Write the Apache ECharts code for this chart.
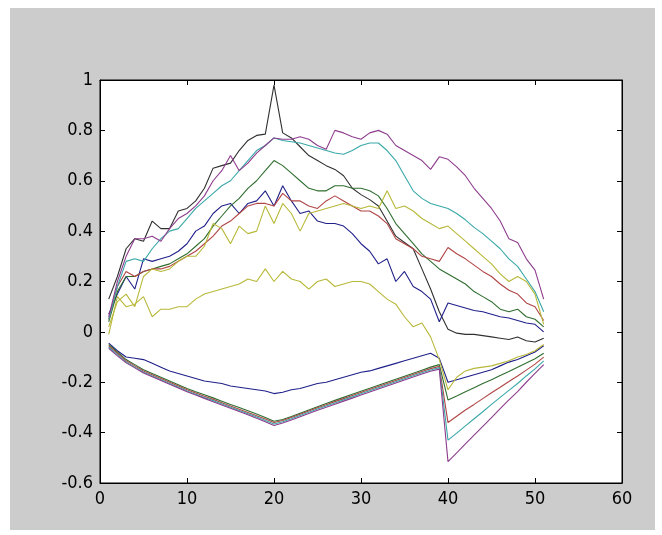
<!DOCTYPE html>
<html><head><meta charset="utf-8">
<script src="https://cdn.jsdelivr.net/npm/echarts/dist/echarts.min.js"></script>
<style>
html,body{margin:0;padding:0;background:#fff;}
#bg{position:absolute;left:10px;top:8px;width:645px;height:522px;background:#cccccc;}
#c{position:absolute;left:0;top:0;width:662px;height:535px;}
</style>
</head><body><div id="bg"></div><div id="c"></div>
<script>
const xValues = [1,2,3,4,5,6,7,8,9,10,11,12,13,14,15,16,17,18,19,20,21,22,23,24,25,26,27,28,29,30,31,32,33,34,35,36,37,38,39,40,41,42,43,44,45,46,47,48,49,50,51];

const xTicks = [0,10,20,30,40,50,60];
const yTicks = [-0.6,-0.4,-0.2,0,0.2,0.4,0.6,0.8,1];

const lowBlue = [-0.045,-0.075,-0.1,-0.105,-0.11,-0.125,-0.14,-0.155,-0.165,-0.175,-0.185,-0.195,-0.2,-0.205,-0.215,-0.22,-0.225,-0.23,-0.235,-0.245,-0.24,-0.23,-0.225,-0.215,-0.205,-0.2,-0.19,-0.18,-0.17,-0.16,-0.155,-0.145,-0.135,-0.125,-0.115,-0.105,-0.095,-0.085,-0.105,-0.2,-0.19,-0.18,-0.17,-0.16,-0.15,-0.135,-0.12,-0.11,-0.095,-0.08,-0.055];
const lowGreen = [-0.05,-0.08,-0.11,-0.13,-0.15,-0.165,-0.18,-0.195,-0.21,-0.225,-0.238,-0.25,-0.262,-0.275,-0.288,-0.3,-0.313,-0.326,-0.34,-0.355,-0.348,-0.336,-0.323,-0.31,-0.297,-0.284,-0.272,-0.26,-0.248,-0.236,-0.224,-0.212,-0.2,-0.188,-0.176,-0.164,-0.152,-0.14,-0.13,-0.27,-0.255,-0.238,-0.222,-0.205,-0.19,-0.173,-0.157,-0.14,-0.124,-0.107,-0.085];
const lowRed = [-0.055,-0.085,-0.115,-0.135,-0.155,-0.17,-0.185,-0.2,-0.215,-0.23,-0.243,-0.256,-0.268,-0.281,-0.294,-0.307,-0.32,-0.333,-0.346,-0.36,-0.352,-0.34,-0.327,-0.314,-0.301,-0.289,-0.277,-0.265,-0.253,-0.241,-0.229,-0.217,-0.205,-0.193,-0.181,-0.169,-0.157,-0.146,-0.137,-0.36,-0.335,-0.31,-0.288,-0.265,-0.242,-0.22,-0.197,-0.175,-0.152,-0.128,-0.1];
const lowCyan = [-0.06,-0.09,-0.12,-0.14,-0.16,-0.175,-0.19,-0.205,-0.22,-0.235,-0.248,-0.261,-0.273,-0.286,-0.299,-0.312,-0.325,-0.338,-0.352,-0.366,-0.357,-0.345,-0.332,-0.319,-0.306,-0.294,-0.282,-0.27,-0.258,-0.246,-0.234,-0.222,-0.21,-0.198,-0.186,-0.174,-0.162,-0.151,-0.142,-0.43,-0.402,-0.373,-0.345,-0.317,-0.288,-0.26,-0.232,-0.205,-0.175,-0.147,-0.115];
const lowMagenta = [-0.065,-0.095,-0.123,-0.143,-0.163,-0.178,-0.193,-0.208,-0.223,-0.238,-0.251,-0.264,-0.277,-0.29,-0.303,-0.316,-0.329,-0.343,-0.357,-0.372,-0.362,-0.35,-0.337,-0.324,-0.311,-0.299,-0.287,-0.275,-0.263,-0.251,-0.239,-0.227,-0.215,-0.203,-0.191,-0.179,-0.167,-0.156,-0.148,-0.515,-0.48,-0.445,-0.41,-0.375,-0.34,-0.305,-0.27,-0.237,-0.2,-0.165,-0.13];
const yellowLow = [-0.01,0.14,0.1,0.11,0.14,0.06,0.09,0.09,0.1,0.1,0.13,0.15,0.16,0.17,0.18,0.19,0.21,0.2,0.25,0.2,0.24,0.21,0.2,0.17,0.2,0.21,0.18,0.19,0.2,0.2,0.19,0.16,0.13,0.11,0.06,0.02,0.035,-0.02,-0.11,-0.23,-0.18,-0.155,-0.145,-0.14,-0.135,-0.125,-0.115,-0.1,-0.09,-0.075,-0.05];
const blackSpike = [0.13,0.22,0.33,0.37,0.36,0.44,0.41,0.41,0.48,0.49,0.52,0.57,0.65,0.66,0.67,0.72,0.76,0.78,0.785,0.98,0.79,0.77,0.735,0.7,0.68,0.66,0.645,0.62,0.57,0.545,0.525,0.5,0.44,0.38,0.355,0.33,0.25,0.17,0.08,0.01,-0.005,-0.01,-0.01,-0.015,-0.02,-0.025,-0.03,-0.02,-0.035,-0.04,-0.025];
const blueUp = [0.07,0.15,0.22,0.17,0.29,0.28,0.29,0.3,0.32,0.35,0.4,0.42,0.47,0.5,0.51,0.47,0.51,0.52,0.56,0.5,0.58,0.52,0.47,0.48,0.44,0.43,0.43,0.42,0.39,0.35,0.32,0.27,0.29,0.2,0.24,0.18,0.16,0.13,0.04,0.115,0.105,0.095,0.085,0.08,0.07,0.06,0.055,0.045,0.035,0.03,0.0];
const greenUp = [0.04,0.16,0.22,0.22,0.24,0.25,0.26,0.27,0.29,0.31,0.34,0.37,0.42,0.46,0.5,0.53,0.57,0.6,0.64,0.68,0.66,0.63,0.6,0.57,0.56,0.56,0.58,0.58,0.57,0.57,0.56,0.54,0.49,0.43,0.39,0.35,0.31,0.28,0.25,0.23,0.21,0.19,0.16,0.14,0.12,0.09,0.08,0.09,0.06,0.05,0.02];
const redUp = [0.05,0.18,0.24,0.22,0.24,0.25,0.25,0.26,0.28,0.3,0.32,0.35,0.38,0.42,0.44,0.47,0.5,0.51,0.51,0.5,0.55,0.52,0.52,0.5,0.49,0.52,0.54,0.52,0.5,0.48,0.48,0.46,0.43,0.37,0.35,0.33,0.3,0.29,0.28,0.335,0.31,0.29,0.265,0.24,0.22,0.19,0.165,0.15,0.115,0.1,0.045];
const cyanUp = [0.05,0.18,0.28,0.29,0.28,0.33,0.37,0.4,0.41,0.45,0.49,0.52,0.55,0.58,0.6,0.64,0.68,0.72,0.74,0.77,0.76,0.755,0.75,0.74,0.73,0.72,0.71,0.705,0.72,0.74,0.75,0.75,0.72,0.68,0.62,0.56,0.53,0.51,0.5,0.49,0.47,0.445,0.415,0.39,0.36,0.33,0.29,0.26,0.21,0.16,0.08];
const magentaUp = [0.06,0.2,0.3,0.37,0.37,0.38,0.36,0.41,0.45,0.47,0.5,0.54,0.6,0.64,0.7,0.64,0.67,0.71,0.74,0.77,0.765,0.765,0.775,0.765,0.74,0.725,0.8,0.79,0.775,0.765,0.79,0.8,0.785,0.74,0.72,0.7,0.68,0.645,0.695,0.685,0.655,0.62,0.57,0.53,0.49,0.44,0.37,0.355,0.29,0.245,0.13];
const yellowHigh = [0.02,0.12,0.15,0.1,0.22,0.25,0.24,0.25,0.28,0.3,0.3,0.34,0.43,0.41,0.35,0.42,0.39,0.4,0.5,0.43,0.51,0.47,0.4,0.47,0.48,0.49,0.5,0.51,0.5,0.49,0.5,0.49,0.56,0.49,0.5,0.48,0.45,0.43,0.41,0.42,0.39,0.36,0.33,0.3,0.27,0.23,0.2,0.22,0.2,0.15,0.03];

const C = {b:'#20208a', g:'#2f6e2f', r:'#b04545', c:'#3aa8a8', m:'#8e3d8e', y:'#b8b83a', k:'#303030'};

const seriesDefs = [
  [lowBlue, C.b], [lowGreen, C.g], [lowRed, C.r], [lowCyan, C.c], [lowMagenta, C.m],
  [yellowLow, C.y], [blackSpike, C.k],
  [blueUp, C.b], [greenUp, C.g], [redUp, C.r], [cyanUp, C.c], [magentaUp, C.m], [yellowHigh, C.y]
];

const font = "'Liberation Sans Narrow','DejaVu Sans Condensed','Liberation Sans',sans-serif";
const fmt = v => String(Math.round(v * 10) / 10);

function axisBase(extra) {
  return Object.assign({
    type: 'value',
    axisLine: {show: true, onZero: false, lineStyle: {color: '#000', width: 1}},
    axisTick: {show: true, inside: true, length: 5, lineStyle: {color: '#000'}},
    splitLine: {show: false},
  }, extra);
}

const chart = echarts.init(document.getElementById('c'));
chart.setOption({
  backgroundColor: 'transparent',
  animation: false,
  grid: {left: 100, top: 80, right: 40, bottom: 52, show: true, backgroundColor: '#fff', borderColor: '#000', borderWidth: 1},
  xAxis: [
    axisBase({min: xTicks[0], max: xTicks[xTicks.length - 1], interval: 10, position: 'bottom',
      axisLabel: {color: '#000', fontSize: 18, margin: 7, fontFamily: font, formatter: fmt}}),
    axisBase({min: xTicks[0], max: xTicks[xTicks.length - 1], interval: 10, position: 'top', axisLabel: {show: false}})
  ],
  yAxis: [
    axisBase({min: yTicks[0], max: yTicks[yTicks.length - 1], interval: 0.2, position: 'left',
      axisLabel: {color: '#000', fontSize: 18, margin: 7, fontFamily: font, formatter: fmt}}),
    axisBase({min: yTicks[0], max: yTicks[yTicks.length - 1], interval: 0.2, position: 'right', axisLabel: {show: false}})
  ],
  series: seriesDefs.map(([vals, color]) => ({
    type: 'line',
    data: vals.map((v, i) => [xValues[i], v]),
    showSymbol: false,
    symbol: 'none',
    lineStyle: {color: color, width: 1.1},
    itemStyle: {color: color},
    silent: true
  }))
});
</script></body></html>
